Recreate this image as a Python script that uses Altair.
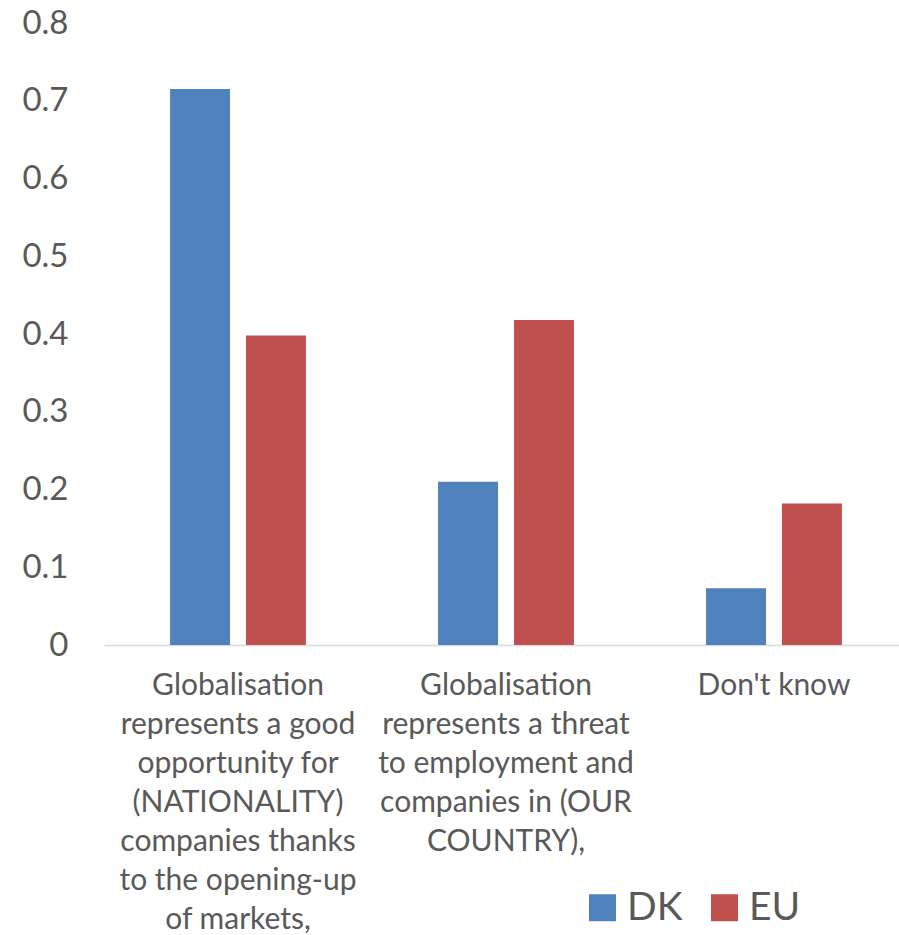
import altair as alt
import pandas as pd

categories = [
    "Globalisation|represents a good|opportunity for|(NATIONALITY)|companies thanks|to the opening-up|of markets,",
    "Globalisation|represents a threat|to employment and|companies in (OUR|COUNTRY),",
    "Don't know",
]
series = ["DK", "EU"]
dk_values = [0.715, 0.21, 0.073]
eu_values = [0.398, 0.418, 0.182]
y_ticks = [0, 0.1, 0.2, 0.3, 0.4, 0.5, 0.6, 0.7, 0.8]
colors = ["#4F81BD", "#C0504D"]

rows = []
for c, d, e in zip(categories, dk_values, eu_values):
    rows.append({"category": c, "series": "DK", "value": d})
    rows.append({"category": c, "series": "EU", "value": e})
df = pd.DataFrame(rows)

FONT = "Lato"
TXT = "#595959"

chart = (
    alt.Chart(df)
    .mark_bar()
    .encode(
        x=alt.X(
            "category:N",
            sort=categories,
            scale=alt.Scale(paddingInner=0.493, paddingOuter=0.2465, range=[0, 804]),
            axis=alt.Axis(
                title=None,
                labelExpr="split(datum.label, '|')",
                labelAngle=0,
                labelAlign="center",
                labelBaseline="top",
                labelFont=FONT,
                labelFontSize=30,
                labelLineHeight=39,
                labelColor=TXT,
                labelPadding=25,
                labelLimit=400,
                labelOverlap=False,
                ticks=False,
                domainColor="#D9D9D9",
                domainWidth=1.5,
            ),
        ),
        xOffset=alt.XOffset(
            "series:N",
            sort=series,
            scale=alt.Scale(paddingInner=0.21, paddingOuter=0),
        ),
        y=alt.Y(
            "value:Q",
            scale=alt.Scale(domain=[0, 0.8], nice=False),
            axis=alt.Axis(
                title=None,
                values=y_ticks,
                format="~g",
                grid=False,
                ticks=False,
                domain=False,
                labelFont=FONT,
                labelFontSize=33,
                labelColor=TXT,
                labelPadding=36,
            ),
        ),
        color=alt.Color(
            "series:N",
            sort=series,
            scale=alt.Scale(domain=series, range=colors),
            legend=alt.Legend(
                title=None,
                orient="none",
                direction="horizontal",
                legendX=479,
                legendY=865,
                padding=0,
                symbolType="square",
                symbolSize=729,
                symbolStrokeWidth=0,
                labelFont=FONT,
                labelFontSize=39,
                labelColor=TXT,
                labelOffset=5,
                columnPadding=22,
            ),
        ),
    )
    .properties(
        width=795,
        height=622,
        autosize=alt.AutoSizeParams(type="none"),
        padding={"left": 104, "top": 23, "right": 0, "bottom": 290},
    )
    .configure_view(stroke=None)
)

chart.save("out.html", embed_options={"renderer": "svg", "actions": False})
